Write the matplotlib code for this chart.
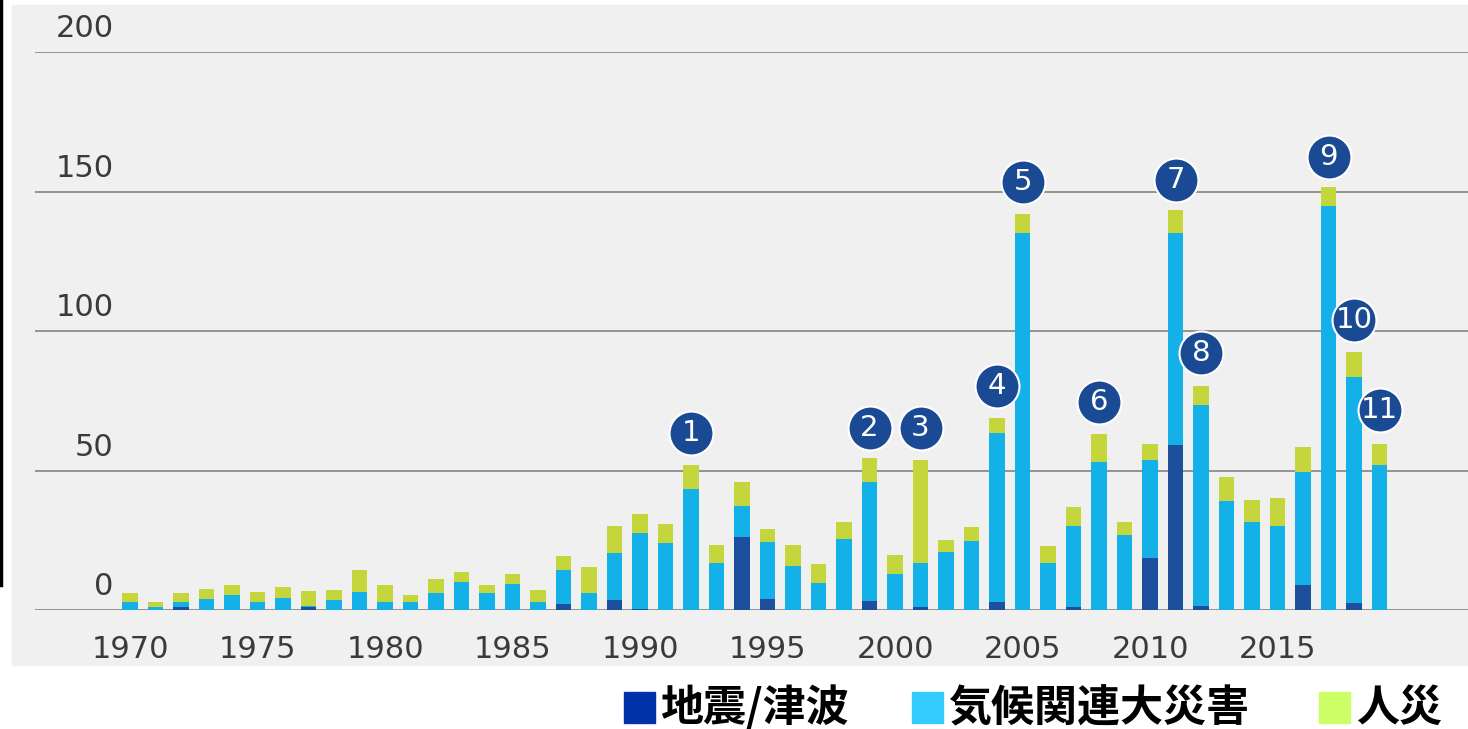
import numpy as np
import matplotlib
matplotlib.use("Agg")
import matplotlib.pyplot as plt
from matplotlib.patches import Rectangle
from matplotlib.lines import Line2D

years = list(range(1970, 2020))
# 地震/津波
quake = [0, 0, 1, 0, 0, 0, 0, 1, 0, 0,
         0, 0, 0, 0, 0, 0, 0, 2, 0, 3.6,
         0.5, 0, 0, 0, 26.2, 4, 0, 0, 0, 3.4,
         0, 1, 0, 0, 3, 0, 0, 1, 0, 0,
         18.6, 59.3, 1.5, 0, 0, 0, 8.8, 0, 2.4, 0]
# 気候関連大災害
climate = [3, 1, 2, 3.8, 5.5, 3, 4.3, 0.5, 3.5, 6.6,
           3, 3, 6, 10, 6, 9.4, 3, 12.3, 6, 16.7,
           27.2, 24, 43.5, 17, 11.1, 20.5, 15.6, 9.7, 25.3, 42.3,
           13, 15.7, 20.8, 24.7, 60.3, 135, 16.8, 29, 53, 27,
           35, 76, 72, 39, 31.6, 30, 40.5, 144.8, 81.2, 52]
# 人災
manmade = [3, 2, 3, 3.6, 3.6, 3.3, 3.8, 5.2, 3.7, 7.6,
           6, 2.3, 5, 3.6, 3, 3.6, 4, 5.1, 9.3, 9.8,
           6.8, 6.8, 8.6, 6.3, 8.6, 4.7, 7.7, 6.9, 6.4, 8.9,
           6.7, 37.1, 4.2, 5, 5.5, 7, 6, 7, 10, 4.5,
           5.8, 8, 6.7, 8.6, 7.7, 10.3, 9.1, 6.7, 8.9, 7.6]

marker_years = [1992, 1999, 2001, 2004, 2005, 2008, 2011, 2012, 2017, 2018, 2019]
marker_y = [63.4, 65.2, 65.2, 80.3, 153.4, 74.6, 154.1, 92.1, 162.4, 103.9, 71.7]
marker_labels = ["1", "2", "3", "4", "5", "6", "7", "8", "9", "10", "11"]

xtick_years = [1970, 1975, 1980, 1985, 1990, 1995, 2000, 2005, 2010, 2015]
ytick_vals = [0, 50, 100, 150, 200]

legend_labels = ["地震/津波", "気候関連大災害", "人災"]
legend_colors = ["#0033aa", "#33ccff", "#ccff66"]

c_quake = "#1e4f9c"
c_climate = "#14b0e8"
c_man = "#c5d63c"

fig = plt.figure(figsize=(14.68, 7.29), dpi=100)
fig.patch.set_facecolor("white")

# gray panel and the black stroke on the left
fig.patches.append(Rectangle((12 / 1468, 64 / 729), 1456 / 1468, 660 / 729,
                             transform=fig.transFigure, color="#f0f0f0", zorder=-10))
fig.lines.append(Line2D([1.5 / 1468, 1.5 / 1468], [(729 - 585) / 729, 1],
                        transform=fig.transFigure, color="black", lw=2.5))

ax = fig.add_axes([35 / 1468, (729 - 610) / 729, 1433 / 1468, 558 / 729])
ax.set_facecolor("none")
for s in ax.spines.values():
    s.set_visible(False)

x = np.array(years)
q = np.array(quake)
c = np.array(climate)
m = np.array(manmade)
w = 0.6
ax.bar(x, q, width=w, color=c_quake, zorder=3)
ax.bar(x, c, width=w, bottom=q, color=c_climate, zorder=3)
ax.bar(x, m, width=w, bottom=q + c, color=c_man, zorder=3)

for v in ytick_vals:
    ax.axhline(v, color="#8c8c8c", lw=1.3, zorder=1)
    ax.annotate(str(v), xy=(1969.35, v), xytext=(0, 10.5), textcoords="offset points",
                ha="right", va="baseline", fontsize=22, color="#3a3a3a")

ax.scatter(marker_years, marker_y, s=1000, color="#1b4a95", edgecolor="white",
           linewidth=1.5, zorder=5)
for xx, yy, t in zip(marker_years, marker_y, marker_labels):
    ax.text(xx, yy, t, ha="center", va="center", color="white", fontsize=21, zorder=6)

ax.set_xlim(1966.27, 2022.47)
ax.set_ylim(0, 200)
ax.set_yticks([])
ax.set_xticks(xtick_years)
ax.set_xticklabels([str(y) for y in xtick_years], fontsize=22, color="#3a3a3a")
ax.tick_params(axis="x", length=0, pad=18)

# legend under the panel
jp = ["Noto Sans CJK JP", "DejaVu Sans"]
sq_x = [624, 912, 1319]
tx_x = [660, 948, 1356]
for sx, tx, lab, col in zip(sq_x, tx_x, legend_labels, legend_colors):
    fig.patches.append(Rectangle((sx / 1468, (729 - 723) / 729), 31 / 1468, 31 / 729,
                                 transform=fig.transFigure, color=col, zorder=2))
    fig.text(tx / 1468, (729 - 708) / 729, lab, family=jp, fontweight="bold",
             fontsize=31, ha="left", va="center", color="black")

fig.savefig("out.png", dpi=100)
